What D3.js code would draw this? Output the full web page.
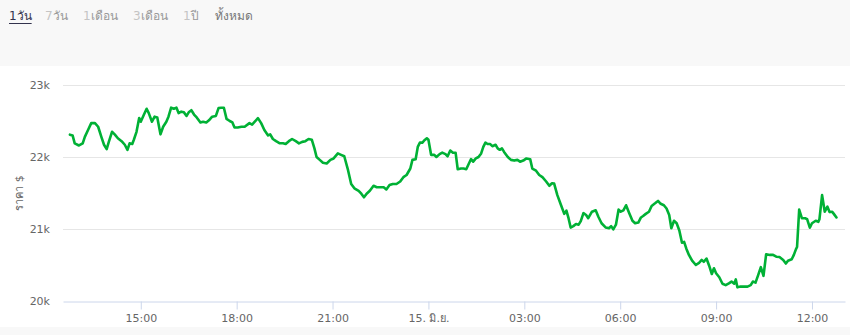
<!DOCTYPE html>
<html>
<head>
<meta charset="utf-8">
<script src="https://cdn.jsdelivr.net/npm/d3@7"></script>
<style>
  html, body { margin: 0; padding: 0; background: #f8f8f8; }
  body { width: 850px; height: 335px; overflow: hidden; font-family: "DejaVu Sans", Arial, sans-serif; }
</style>
</head>
<body>
<script>
// data

// range buttons along the top: [number part, word part]
var ranges = [["1", "วัน"], ["7", "วัน"], ["1", "เดือน"], ["3", "เดือน"], ["1", "ปี"], ["", "ทั้งหมด"]];

// minutes after 12:43 on 14 June
var minutes = [4, 9, 13, 21, 28, 32, 38, 44, 51, 57, 63, 68, 73, 77, 83, 88, 94, 101, 107, 112,
  116, 121, 124, 129, 134, 137, 143, 148, 152, 158, 163, 168, 174, 179, 185, 189, 194, 199, 204, 208,
  213, 218, 223, 227, 232, 237, 242, 249, 254, 260, 265, 271, 278, 283, 288, 293, 298, 304, 309, 313,
  319, 326, 332, 341, 346, 351, 357, 363, 369, 376, 380, 385, 391, 398, 404, 409, 415, 421, 428, 434,
  440, 446, 452, 458, 463, 467, 473, 479, 486, 493, 499, 507, 513, 519, 526, 532, 538, 546, 551, 556,
  561, 567, 574, 580, 586, 593, 598, 604, 610, 617, 624, 630, 636, 643, 647, 653, 657, 661, 666, 669,
  674, 677, 682, 688, 692, 698, 703, 709, 713, 718, 723, 728, 732, 738, 743, 748, 753, 757, 761, 766,
  771, 776, 780, 784, 788, 793, 797, 803, 807, 811, 815, 819, 826, 832, 838, 844, 849, 855, 861, 868,
  872, 879, 885, 891, 898, 904, 909, 913, 919, 926, 932, 936, 940, 944, 949, 954, 959, 963, 968, 973,
  977, 984, 991, 996, 1002, 1010, 1016, 1020, 1024, 1029, 1034, 1038, 1043, 1048, 1054, 1060, 1065, 1071, 1076, 1080,
  1085, 1091, 1096, 1103, 1108, 1113, 1119, 1124, 1129, 1133, 1138, 1143, 1148, 1153, 1157, 1161, 1166, 1172, 1179, 1185,
  1190, 1194, 1199, 1204, 1209, 1213, 1217, 1223, 1229, 1235, 1241, 1246, 1251, 1254, 1257, 1263, 1269, 1276, 1282, 1286,
  1291, 1296, 1301, 1306, 1311, 1318, 1324, 1330, 1336, 1343, 1348, 1352, 1359, 1363, 1367, 1369, 1373, 1378, 1384, 1388,
  1393, 1397, 1404, 1409, 1411, 1416, 1421, 1426, 1430, 1435, 1438, 1443];

// price in USD
var prices = [22310, 22300, 22190, 22160, 22190, 22280, 22375, 22470, 22470, 22420, 22280, 22170, 22110, 22210, 22350, 22315, 22260, 22220, 22170, 22100,
  22190, 22180, 22240, 22350, 22540, 22490, 22590, 22670, 22610, 22490, 22560, 22550, 22315, 22420, 22490, 22560, 22685, 22670, 22685, 22610,
  22630, 22620, 22570, 22620, 22650, 22590, 22550, 22480, 22490, 22480, 22510, 22560, 22570, 22680, 22685, 22685, 22530, 22500, 22480, 22410,
  22410, 22420, 22420, 22470, 22450, 22490, 22540, 22470, 22375, 22300, 22315, 22250, 22220, 22190, 22190, 22180, 22220, 22250, 22220, 22190,
  22210, 22220, 22250, 22240, 22120, 22000, 21960, 21920, 21910, 21960, 21980, 22050, 22030, 22010, 21820, 21625, 21565, 21530, 21490, 21440,
  21490, 21530, 21600, 21580, 21580, 21580, 21550, 21610, 21625, 21625, 21660, 21720, 21750, 21840, 21960, 21970, 22140, 22200, 22200, 22230,
  22260, 22240, 22030, 22030, 22000, 22040, 22060, 22040, 22010, 22090, 22060, 22060, 21830, 21840, 21840, 21830, 21910, 21970, 21935, 21980,
  22000, 22050, 22140, 22200, 22180, 22180, 22150, 22170, 22120, 22100, 22120, 22070, 22000, 21960, 21950, 21960, 21935, 21950, 21980, 21970,
  21840, 21810, 21750, 21720, 21660, 21600, 21635, 21630, 21470, 21330, 21210, 21255, 21150, 21020, 21040, 21070, 21060, 21110, 21220, 21195,
  21150, 21240, 21260, 21170, 21080, 21020, 21010, 21040, 20995, 21060, 21270, 21240, 21260, 21330, 21220, 21115, 21080, 21090, 21160, 21180,
  21210, 21240, 21320, 21360, 21390, 21350, 21330, 21285, 21195, 21010, 21115, 21080, 20980, 20810, 20820, 20730, 20640, 20560, 20500, 20530,
  20570, 20545, 20590, 20490, 20375, 20455, 20385, 20330, 20240, 20220, 20245, 20270, 20240, 20300, 20190, 20200, 20200, 20200, 20220, 20270,
  20255, 20360, 20470, 20350, 20650, 20640, 20640, 20615, 20610, 20570, 20520, 20560, 20580, 20640, 20720, 20750, 21270, 21150, 21150, 21135,
  21020, 21080, 21115, 21100, 21135, 21470, 21240, 21310, 21235, 21240, 21210, 21160];

var yTicks = [20000, 21000, 22000, 23000];
var yTitle = "ราคา $";
var dayLabel = "15. มิ.ย.";

// layout

var width = 850, height = 335;
var plotLeft = 63, plotRight = 845, plotTop = 85, plotBottom = 301;
var start = new Date(2022, 5, 14, 12, 43);

var data = minutes.map(function (m, i) {
  return { t: new Date(start.getTime() + m * 60000), v: prices[i] };
});

var svg = d3.select("body").append("svg")
    .attr("width", width).attr("height", height)
    .style("display", "block");

svg.append("rect").attr("x", 0).attr("y", 0).attr("width", width).attr("height", height).attr("fill", "#f8f8f8");
svg.append("rect").attr("x", 0).attr("y", 66).attr("width", width).attr("height", 261).attr("fill", "#ffffff");

// range buttons
var btnX = [9, 45, 83, 133, 183, 215];
var buttons = svg.append("g").attr("class", "ranges")
    .style("font-family", "'DejaVu Sans', Arial, sans-serif")
    .style("font-size", "12px");
ranges.forEach(function (r, i) {
  var t = buttons.append("text").attr("x", btnX[i]).attr("y", 20);
  t.append("tspan").text(r[0]).attr("fill", i === 0 ? "#33334d" : "#c4c4c4");
  t.append("tspan").text(r[1]).attr("fill", i === 0 ? "#33334d" : (i === 5 ? "#777" : "#999"));
  if (i === 0) {
    var w = t.node().getComputedTextLength();
    buttons.append("line")
        .attr("x1", btnX[i]).attr("x2", btnX[i] + w)
        .attr("y1", 23.5).attr("y2", 23.5)
        .attr("stroke", "#33334d").attr("stroke-width", 1);
  }
});

// scales
var x = d3.scaleTime()
    .domain([new Date(2022, 5, 14, 12, 34), new Date(2022, 5, 15, 13, 2)])
    .range([plotLeft, plotRight]);
var y = d3.scaleLinear()
    .domain([20000, 23000])
    .range([plotBottom, plotTop]);

// grid
svg.append("g").attr("class", "grid")
  .selectAll("line").data(yTicks.filter(function (d) { return d !== 20000; }))
  .join("line")
    .attr("x1", plotLeft).attr("x2", plotRight)
    .attr("y1", function (d) { return Math.round(y(d)) + 0.5; })
    .attr("y2", function (d) { return Math.round(y(d)) + 0.5; })
    .attr("stroke", "#e6e6e6");

// y axis labels
var yAxis = svg.append("g").attr("class", "y-axis")
    .attr("transform", "translate(" + (plotLeft - 13) + ",0)")
    .call(d3.axisLeft(y).tickValues(yTicks).tickSize(0).tickPadding(0)
      .tickFormat(function (d) { return (d / 1000) + "k"; }));
yAxis.select(".domain").remove();
yAxis.selectAll("text")
    .attr("fill", "#666").style("font-size", "11px")
    .style("font-family", "'DejaVu Sans', Arial, sans-serif");

svg.append("text")
    .attr("transform", "translate(23," + ((plotTop + plotBottom) / 2) + ") rotate(-90)")
    .attr("text-anchor", "middle")
    .attr("fill", "#666").style("font-size", "11px")
    .text(yTitle);

// x axis
var xTicks = d3.timeHour.every(3).range(x.domain()[0], x.domain()[1]);
var xAxis = svg.append("g").attr("class", "x-axis")
    .attr("transform", "translate(0," + (plotBottom + 0.5) + ")")
    .call(d3.axisBottom(x).tickValues(xTicks).tickSize(8).tickSizeOuter(0).tickPadding(5)
      .tickFormat(function (d) { return d.getHours() === 0 ? dayLabel : d3.timeFormat("%H:%M")(d); }));
xAxis.select(".domain").attr("stroke", "#ccd6eb");
xAxis.selectAll(".tick line").attr("stroke", "#ccd6eb");
xAxis.selectAll("text")
    .attr("fill", "#666").style("font-size", "11px")
    .style("font-family", "'DejaVu Sans', Arial, sans-serif");

// price line
var line = d3.line()
    .x(function (d) { return x(d.t); })
    .y(function (d) { return y(d.v); });

svg.append("path")
    .datum(data)
    .attr("fill", "none")
    .attr("stroke", "#00b135")
    .attr("stroke-width", 2.6)
    .attr("stroke-linejoin", "round")
    .attr("stroke-linecap", "round")
    .attr("d", line);
</script>
</body>
</html>
